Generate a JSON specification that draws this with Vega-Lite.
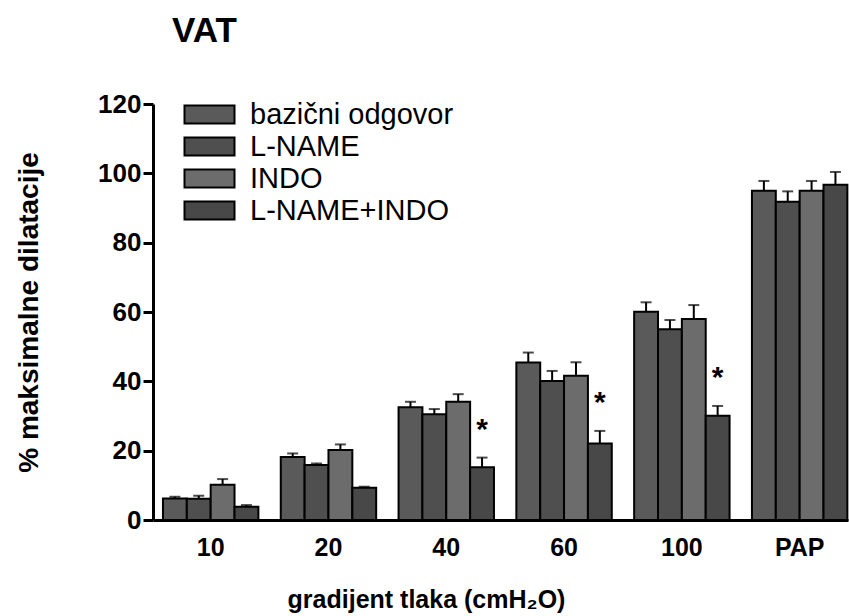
{
  "$schema": "https://vega.github.io/schema/vega-lite/v6.json",
  "autosize": "none",
  "width": 695,
  "height": 416,
  "padding": {"left": 153, "top": 104, "right": 1, "bottom": 96},
  "background": "white",
  "title": {"text": "VAT", "anchor": "start", "frame": "group", "font": "Liberation Sans", "fontSize": 35, "fontWeight": "bold", "color": "black", "dx": 19, "offset": 42},
  "config": {
    "view": {"stroke": null},
    "font": "Liberation Sans"
  },
  "data": {
    "values": [
      {"grupa": "10", "serija": "bazični odgovor", "vrijednost": 6.2, "gornja": 6.7, "sig": ""},
      {"grupa": "10", "serija": "L-NAME", "vrijednost": 6.1, "gornja": 7.0, "sig": ""},
      {"grupa": "10", "serija": "INDO", "vrijednost": 10.2, "gornja": 11.8, "sig": ""},
      {"grupa": "10", "serija": "L-NAME+INDO", "vrijednost": 3.8, "gornja": 4.3, "sig": ""},
      {"grupa": "20", "serija": "bazični odgovor", "vrijednost": 18.2, "gornja": 19.2, "sig": ""},
      {"grupa": "20", "serija": "L-NAME", "vrijednost": 15.9, "gornja": 16.3, "sig": ""},
      {"grupa": "20", "serija": "INDO", "vrijednost": 20.2, "gornja": 21.8, "sig": ""},
      {"grupa": "20", "serija": "L-NAME+INDO", "vrijednost": 9.3, "gornja": 9.6, "sig": ""},
      {"grupa": "40", "serija": "bazični odgovor", "vrijednost": 32.5, "gornja": 34.1, "sig": ""},
      {"grupa": "40", "serija": "L-NAME", "vrijednost": 30.5, "gornja": 32.0, "sig": ""},
      {"grupa": "40", "serija": "INDO", "vrijednost": 34.1, "gornja": 36.3, "sig": ""},
      {"grupa": "40", "serija": "L-NAME+INDO", "vrijednost": 15.2, "gornja": 18.0, "sig": "*"},
      {"grupa": "60", "serija": "bazični odgovor", "vrijednost": 45.4, "gornja": 48.3, "sig": ""},
      {"grupa": "60", "serija": "L-NAME", "vrijednost": 40.1, "gornja": 43.0, "sig": ""},
      {"grupa": "60", "serija": "INDO", "vrijednost": 41.6, "gornja": 45.5, "sig": ""},
      {"grupa": "60", "serija": "L-NAME+INDO", "vrijednost": 22.1, "gornja": 25.7, "sig": "*"},
      {"grupa": "100", "serija": "bazični odgovor", "vrijednost": 60.1, "gornja": 62.8, "sig": ""},
      {"grupa": "100", "serija": "L-NAME", "vrijednost": 55.0, "gornja": 57.7, "sig": ""},
      {"grupa": "100", "serija": "INDO", "vrijednost": 58.0, "gornja": 62.0, "sig": ""},
      {"grupa": "100", "serija": "L-NAME+INDO", "vrijednost": 30.1, "gornja": 32.9, "sig": "*"},
      {"grupa": "PAP", "serija": "bazični odgovor", "vrijednost": 95.0, "gornja": 97.8, "sig": ""},
      {"grupa": "PAP", "serija": "L-NAME", "vrijednost": 91.8, "gornja": 94.8, "sig": ""},
      {"grupa": "PAP", "serija": "INDO", "vrijednost": 95.0, "gornja": 97.8, "sig": ""},
      {"grupa": "PAP", "serija": "L-NAME+INDO", "vrijednost": 96.7, "gornja": 100.4, "sig": ""}
    ]
  },
  "encoding": {
    "x": {
      "field": "grupa", "type": "nominal",
      "sort": ["10", "20", "40", "60", "100", "PAP"],
      "scale": {"paddingInner": 0.19, "paddingOuter": 0.045, "align": 0.94},
      "axis": {
        "title": "gradijent tlaka (cmH₂O)",
        "labelAngle": 0,
        "ticks": false,
        "domainColor": "black", "domainWidth": 3,
        "labelFont": "Liberation Sans", "labelFontSize": 25, "labelFontWeight": "bold", "labelColor": "black",
        "labelPadding": 15,
        "titleFont": "Liberation Sans", "titleFontSize": 25, "titleFontWeight": "bold", "titleColor": "black",
        "titlePadding": 27,
        "titleX": 273
      }
    },
    "xOffset": {
      "field": "serija", "type": "nominal",
      "sort": ["bazični odgovor", "L-NAME", "INDO", "L-NAME+INDO"],
      "scale": {"paddingInner": 0, "paddingOuter": 0}
    }
  },
  "layer": [
    {
      "mark": {"type": "bar", "stroke": "black", "strokeWidth": 2},
      "encoding": {
        "y": {
          "field": "vrijednost", "type": "quantitative",
          "scale": {"domain": [0, 120], "nice": false},
          "axis": {
            "title": "% maksimalne dilatacije",
            "values": [0, 20, 40, 60, 80, 100, 120],
            "grid": false,
            "domainColor": "black", "domainWidth": 3,
            "tickColor": "black", "tickWidth": 3, "tickSize": 10,
            "labelFont": "Liberation Sans", "labelFontSize": 26, "labelFontWeight": "bold", "labelColor": "black",
            "labelPadding": 2,
            "titleFont": "Liberation Sans", "titleFontSize": 28, "titleFontWeight": "bold", "titleColor": "black",
            "titlePadding": 54
          }
        },
        "fill": {
          "field": "serija", "type": "nominal",
          "sort": ["bazični odgovor", "L-NAME", "INDO", "L-NAME+INDO"],
          "scale": {"range": ["#5a5a5a", "#4f4f4f", "#6c6c6c", "#484848"]},
          "legend": {
            "title": null,
            "orient": "none",
            "legendX": 42,
            "legendY": -4,
            "symbolType": "M-2.5,-0.9H2.5V0.9H-2.5Z",
            "symbolSize": 400,
            "symbolStrokeColor": "black",
            "symbolStrokeWidth": 2,
            "labelFont": "Liberation Sans",
            "labelFontSize": 29,
            "labelColor": "black",
            "labelOffset": 26,
            "rowPadding": 2,
            "labelLimit": 400
          }
        }
      }
    },
    {
      "mark": {"type": "rule", "color": "black", "strokeWidth": 2},
      "encoding": {
        "y": {"field": "vrijednost", "type": "quantitative"},
        "y2": {"field": "gornja"}
      }
    },
    {
      "mark": {"type": "tick", "color": "black", "thickness": 2, "size": 11, "orient": "horizontal"},
      "encoding": {
        "y": {"field": "gornja", "type": "quantitative"}
      }
    },
    {
      "mark": {"type": "text", "font": "Liberation Sans", "fontSize": 30, "fontWeight": "bold", "color": "black", "baseline": "middle", "dy": -28},
      "encoding": {
        "y": {"field": "gornja", "type": "quantitative"},
        "text": {"field": "sig"}
      }
    }
  ]
}
